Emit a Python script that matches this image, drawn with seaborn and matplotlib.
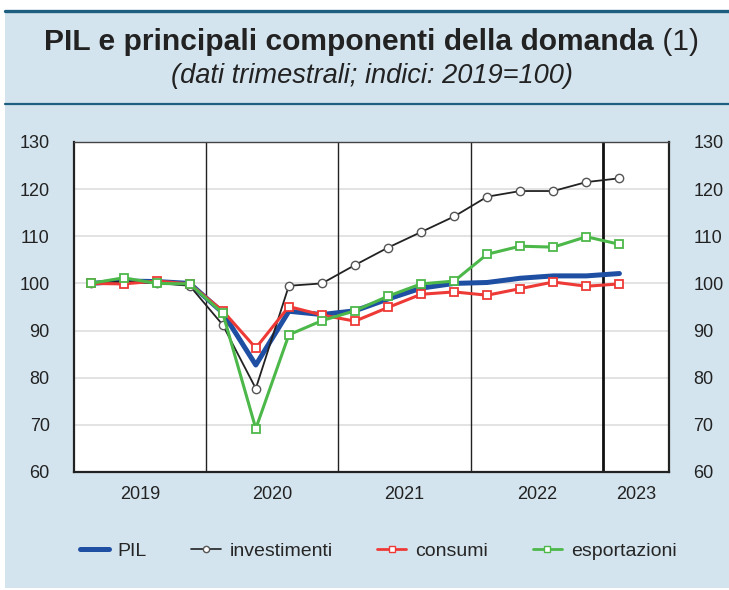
import seaborn as sns
import pandas as pd
import matplotlib.pyplot as plt
from matplotlib.patches import Rectangle
from matplotlib.lines import Line2D
from matplotlib.ticker import FixedLocator, NullFormatter

sns.set_style("white")
plt.rcParams['font.family'] = ['Liberation Sans', 'DejaVu Sans']

# quarterly data, 2019 Q1 .. 2023 Q1
quarters = list(range(17))
pil = [100.0, 100.5, 100.4, 100.0, 93.8, 82.7, 94.1, 93.4, 94.2, 96.7, 99.0, 100.0,
       100.2, 101.1, 101.6, 101.6, 102.1]
investimenti = [100.0, 100.4, 100.1, 99.5, 91.2, 77.7, 99.5, 100.0, 103.9, 107.6, 110.9,
                114.2, 118.4, 119.6, 119.6, 121.5, 122.3]
consumi = [100.0, 99.9, 100.5, 99.9, 94.2, 86.3, 95.1, 93.3, 92.0, 94.9, 97.7, 98.2,
           97.5, 98.9, 100.3, 99.4, 99.9]
esportazioni = [100.0, 101.2, 100.0, 99.9, 93.7, 69.2, 89.1, 92.1, 94.2, 97.3, 99.9,
                100.5, 106.2, 107.9, 107.7, 109.9, 108.3]
years = ["2019", "2020", "2021", "2022", "2023"]

BG = "#d4e4ee"
DARK = "#1d5f80"
BLUE = "#1f4fa3"
RED = "#ee3a36"
GREEN = "#4db84a"
TXT = "#222222"
W, H = 729, 590

fig = plt.figure(figsize=(7.29, 5.9), dpi=100)
fig.patch.set_facecolor("white")
fig.add_artist(Rectangle((5 / W, 2 / H), 724 / W, 577 / H, transform=fig.transFigure,
                         facecolor=BG, edgecolor="none", zorder=-10))
fig.add_artist(Line2D([5 / W, 1], [1 - 11 / H] * 2, color=DARK, lw=2.4, zorder=-5))
fig.add_artist(Line2D([5 / W, 1], [1 - 104 / H] * 2, color=DARK, lw=1.6, zorder=-5))

# title: bold part + plain "(1)", scaled to the reference width
t1 = fig.text(0, 1 - 42 / H, "PIL e principali componenti della domanda", ha="left",
              va="center", fontsize=19, weight="bold", color=TXT)
t2 = fig.text(0, 1 - 42 / H, " (1)", ha="left", va="center", fontsize=19, color=TXT)
sub = fig.text(372 / W, 1 - 76 / H, "(dati trimestrali; indici: 2019=100)", ha="center",
               va="center", fontsize=15, style="italic", color=TXT)
fig.canvas.draw()
r = fig.canvas.get_renderer()
w1 = t1.get_window_extent(r).width
w2 = t2.get_window_extent(r).width
k = 655 / (w1 + w2)
t1.set_fontsize(19 * k)
t2.set_fontsize(19 * k)
x0 = 372 - 655 / 2
t1.set_x(x0 / W)
t2.set_x((x0 + w1 * k) / W)
sub.set_fontsize(15 * 403 / sub.get_window_extent(r).width)

ax = fig.add_axes([74 / W, 118 / H, 595 / W, 330 / H])
ax.set_facecolor("white")

df = pd.DataFrame({"q": quarters, "pil": pil, "inv": investimenti,
                   "cons": consumi, "exp": esportazioni})

sns.lineplot(data=df, x="q", y="pil", ax=ax, color=BLUE, lw=3.6, zorder=3)
sns.lineplot(data=df, x="q", y="inv", ax=ax, color=TXT, lw=1.3, marker="o",
             markersize=6, markerfacecolor="white", markeredgecolor="#555555",
             markeredgewidth=1.0, zorder=4)
sns.lineplot(data=df, x="q", y="cons", ax=ax, color=RED, lw=2.2, marker="s",
             markersize=6, markerfacecolor="white", markeredgecolor=RED,
             markeredgewidth=1.3, zorder=5)
sns.lineplot(data=df, x="q", y="exp", ax=ax, color=GREEN, lw=2.2, marker="s",
             markersize=6, markerfacecolor="white", markeredgecolor=GREEN,
             markeredgewidth=1.3, zorder=6)

ax.set_xlim(-0.5, 17.5)
ax.set_ylim(60, 130)
ax.set_yticks(range(60, 131, 10))
for v in range(70, 130, 10):
    ax.axhline(v, color="#dedede", lw=1.2, zorder=1)
for xv in [3.5, 7.5, 11.5]:
    ax.axvline(xv, color=TXT, lw=1.0, zorder=2)
ax.axvline(15.5, color="#111111", lw=2.0, zorder=2)

ax.set_xticks([1.5, 5.5, 9.5, 13.5, 16.5])
ax.set_xticklabels(years)
ax.xaxis.set_minor_locator(FixedLocator([0.5, 2.5, 4.5, 6.5, 8.5, 10.5, 12.5, 14.5]))
ax.xaxis.set_minor_formatter(NullFormatter())
ax.tick_params(axis="x", which="major", direction="in", length=7, width=1.2,
               labelsize=13, pad=10, colors=TXT)
ax.tick_params(axis="x", which="minor", direction="in", length=4, width=1.0, colors=TXT)
ax.tick_params(axis="y", left=False, right=False, labelleft=True, labelright=True,
               labelsize=13, pad=14, colors=TXT)
ax.set_xlabel("")
ax.set_ylabel("")
for side in ["left", "bottom", "right"]:
    ax.spines[side].set_color(TXT)
    ax.spines[side].set_linewidth(1.6)
ax.spines["top"].set_color("#444444")
ax.spines["top"].set_linewidth(1.0)

handles = [
    Line2D([], [], color=BLUE, lw=3.6),
    Line2D([], [], color=TXT, lw=1.2, marker="o", markersize=4.5,
           markerfacecolor="white", markeredgecolor="#555555"),
    Line2D([], [], color=RED, lw=2.0, marker="s", markersize=4.5,
           markerfacecolor="white", markeredgecolor=RED),
    Line2D([], [], color=GREEN, lw=2.0, marker="s", markersize=4.5,
           markerfacecolor="white", markeredgecolor=GREEN),
]
fig.legend(handles, ["PIL", "investimenti", "consumi", "esportazioni"], loc="center",
           bbox_to_anchor=(378 / W, 1 - 551 / H), ncol=4, frameon=False, fontsize=14,
           handlelength=1.5, columnspacing=2.3, handletextpad=0.45)

fig.savefig("out.png", dpi=100, facecolor=fig.get_facecolor())
